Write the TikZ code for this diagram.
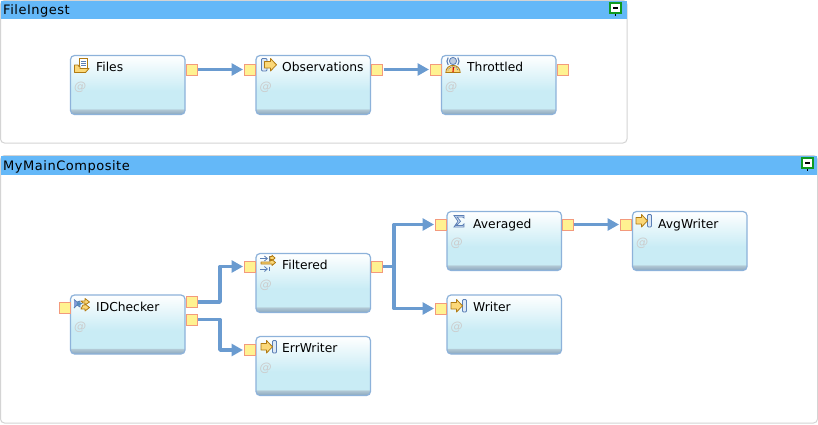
\documentclass[tikz,border=0pt]{standalone}
\usepackage{fontspec}
\setmainfont{DejaVu Sans}
\newfontfamily\titlefont[LetterSpace=4]{DejaVu Sans}
\usetikzlibrary{arrows.meta,calc}
\definecolor{hdr}{HTML}{64B8F8}
\definecolor{panelline}{HTML}{D4D4D4}
\definecolor{boxline}{HTML}{8DB2DA}
\definecolor{boxlight}{HTML}{C9ECF5}
\definecolor{bandtop}{HTML}{B4CBD6}
\definecolor{bandbot}{HTML}{8AA6BE}
\definecolor{portfill}{HTML}{FFF291}
\definecolor{portline}{HTML}{F39A7C}
\definecolor{wire}{HTML}{6A9BD0}
\definecolor{atgray}{HTML}{CCCCCC}
\definecolor{iconbrown}{HTML}{B07A12}
\definecolor{iconyellow}{HTML}{FBD878}
\definecolor{iconblue}{HTML}{5B7FB5}
\definecolor{iconpale}{HTML}{DCE8F6}
\definecolor{mingreen}{HTML}{109A20}
\pgfdeclareverticalshading{boxshade}{100bp}{color(0bp)=(bandbot); color(25bp)=(bandbot); color(29.5bp)=(bandtop); color(30bp)=(boxlight); color(45bp)=(boxlight); color(75bp)=(white); color(100bp)=(white)}
\tikzset{
  panel/.style={draw=panelline,line width=1pt,fill=white,rounded corners=4pt},
  headerbar/.style={fill=hdr},
  paneltitle/.style={anchor=base west,inner sep=0pt,font=\titlefont\fontsize{13}{15}\selectfont,color=black},
  opbox/.style={draw=boxline,line width=1.2pt,rounded corners=4pt,shading=boxshade,shading angle=0,minimum width=114.5pt,minimum height=59pt,inner sep=0pt,outer sep=0pt,anchor=north west},
  oplabel/.style={anchor=base west,inner sep=0pt,font=\fontsize{12.3}{14}\selectfont,color=black},
  atmark/.style={anchor=base west,inner sep=0pt,font=\fontsize{12}{13}\itshape\selectfont,color=atgray},
  port/.style={draw=portline,fill=portfill,line width=1pt,minimum size=11pt,inner sep=0pt,outer sep=0pt},
  wirearrow/.style={draw=wire,line width=3.5pt,line join=round,-{Triangle[length=11.5pt,width=12pt]},shorten >=1pt,shorten <=1pt},
  ibrown/.style={draw=iconbrown,fill=iconyellow,line width=.8pt,line join=round},
  iblue/.style={draw=iconblue,fill=iconpale,line width=.8pt},
  ithin/.style={draw=iconblue,line width=.8pt},
}
\newcommand{\minbtn}[2]{%
  \begin{scope}[shift={(#1,#2)}]
    \draw[black,line width=1pt] (5.5,10) -- (5.5,13);
    \draw[mingreen,line width=1.2pt,fill=white] (0,0) rectangle (11,10);
    \draw[black,line width=1.2pt] (3,5) -- (8,5);
  \end{scope}}
\newcommand{\icowriter}[2]{%
  \begin{scope}[shift={(#1,#2)}]
    \draw[iblue,rounded corners=1pt] (11.5,.5) rectangle (15.5,13);
    \draw[ibrown] (0,3.5) -- (5.5,3.5) -- (5.5,.5) -- (11.5,6.8) -- (5.5,13) -- (5.5,10) -- (0,10) -- cycle;
  \end{scope}}
\newcommand{\icosource}[2]{%
  \begin{scope}[shift={(#1,#2)}]
    \draw[iblue,rounded corners=1pt] (.5,.5) rectangle (6,13);
    \draw[ibrown] (3.5,3.5) -- (9.5,3.5) -- (9.5,.5) -- (15.5,6.8) -- (9.5,13) -- (9.5,10) -- (3.5,10) -- cycle;
  \end{scope}}
\newcommand{\icofiles}[2]{%
  \begin{scope}[shift={(#1,#2)}]
    \draw[iconbrown,fill=white,line width=.8pt] (5,.5) rectangle (13.5,11);
    \draw[iconblue,line width=.6pt] (7,3) -- (12,3) (7,5) -- (12,5) (7,7) -- (12,7);
    \draw[ibrown] (.5,14.5) -- (.5,7) -- (4,7) -- (5,8.5) -- (6,8.5) -- (6,10.5) -- (15,10.5) -- (11.5,14.5) -- cycle;
  \end{scope}}
\newcommand{\icothrottle}[2]{%
  \begin{scope}[shift={(#1,#2)}]
    \draw[iblue,fill=iconblue!40] (8,4) circle (3.6);
    \draw[iconblue,line width=1.1pt] (3.2,.5) .. controls (1.5,3) and (1.5,5.5) .. (3.2,8);
    \draw[iconblue,line width=1.1pt] (12.8,.5) .. controls (14.5,3) and (14.5,5.5) .. (12.8,8);
    \draw[iconbrown,fill=iconyellow,line width=.8pt] (.8,15.5) .. controls (.8,6) and (15.2,6) .. (15.2,15.5) -- cycle;
    \draw[iconblue,line width=.7pt,dash pattern=on 1pt off 1pt] (2.8,13.5) .. controls (3.5,8.5) and (12.5,8.5) .. (13.2,13.5);
    \draw[red!85!black,line width=1.1pt] (8,15) -- (8.4,10);
  \end{scope}}
\newcommand{\icochecker}[2]{%
  \begin{scope}[shift={(#1,#2)}]
    \draw[iblue,fill=cyan!40!blue!50] (0,1.5) -- (3,4) -- (6,3) -- (6,9) -- (3,7) -- (0,10);
    \fill[iconblue!90!cyan] (3,4) -- (9,5.5) -- (3,8) -- cycle;
    \draw[ibrown] (7,3) -- (11,3) -- (11,.5) -- (15.5,4) -- (11,7) -- (11,5) -- (9,5) -- cycle;
    \draw[ibrown] (9,7) -- (11,7) -- (11,6) -- (15.5,9.5) -- (11,13) -- (11,11) -- (7,11) -- cycle;
  \end{scope}}
\newcommand{\icofilter}[2]{%
  \begin{scope}[shift={(#1,#2)}]
    \draw[ithin,-{Straight Barb[length=3pt,width=5pt]}] (0,3.5) -- (8,3.5);
    \draw[ithin] (9,1) -- (9,6);
    \draw[ithin,-{Straight Barb[length=3pt,width=5pt]}] (0,14) -- (8,14);
    \draw[ithin] (9,11.5) -- (9,16);
    \draw[ibrown] (10,1.5) -- (12,1.5) -- (12,.2) -- (15,3) -- (12,5.8) -- (12,4.5) -- (10,4.5) -- cycle;
    \draw[ibrown] (10,5.5) -- (12,5.5) -- (12,4.5) -- (15.5,7.5) -- (12,10.5) -- (12,9) -- (1,9) -- (1,7) -- (10,7) -- cycle;
  \end{scope}}
\newcommand{\icosum}[2]{%
  \begin{scope}[shift={(#1,#2)}]
    \draw[iconblue,fill=iconpale,line width=.8pt,line join=miter] (0,0) -- (10,0) -- (10,2.5) -- (8.5,1.5) -- (3,1.5) -- (6.5,5.8) -- (2.5,10) -- (8.5,10) -- (10,8.5) -- (10,11.5) -- (0,11.5) -- (4,5.8) -- cycle;
  \end{scope}}
\newcommand{\opnode}[6]{% name, x, y, label, label x, label baseline
  \node[opbox] (#1) at (#2,#3) {};
  \node[oplabel] (#1-label) at (#5,#6) {#4};
  \node[atmark] (#1-at) at ($(#2,#3)+(3.5,35)$) {@};
}
\begin{document}
\begin{tikzpicture}[x=1pt,y=-1pt]
\useasboundingbox (0,0) rectangle (818,424);
\fill[white] (0,0) rectangle (818,424);
% panels
\draw[panel] (.5,.5) rectangle (627,143);
\fill[headerbar] (1,1) rectangle (626.5,19);
\node[paneltitle] (t1) at (3,14) {FileIngest};
\minbtn{610}{3}
\draw[panel] (.5,155.5) rectangle (817.5,423);
\fill[headerbar] (1,156) rectangle (817,175);
\node[paneltitle] (t2) at (3,170) {MyMainComposite};
\minbtn{802}{158}
% operators
\opnode{files}{70.5}{55.5}{Files}{96}{71.5}
\opnode{obs}{256}{55.5}{Observations}{282}{71.5}
\opnode{thr}{441.5}{55.5}{Throttled}{467}{71.5}
\opnode{idc}{70.5}{295}{IDChecker}{96}{311}
\opnode{fil}{256}{253.5}{Filtered}{282}{269}
\opnode{err}{256}{336.5}{ErrWriter}{282}{352}
\opnode{avg}{447}{211.5}{Averaged}{473}{228}
\opnode{wri}{447}{295}{Writer}{473}{311}
\opnode{awr}{632.5}{211.5}{AvgWriter}{658}{228}
% icons
\icofiles{74}{58}
\icosource{261}{58}
\icothrottle{445}{57}
\icochecker{74}{298}
\icofilter{260}{255}
\icowriter{261}{340}
\icosum{454}{215.5}
\icowriter{451}{299}
\icowriter{636}{214}
% ports
\node[port] (filesO) at (191.5,69.5) {};
\node[port] (obsI) at (249.5,69.5) {};
\node[port] (obsO) at (377,69.5) {};
\node[port] (thrI) at (435.5,69.5) {};
\node[port] (thrO) at (562.5,69.5) {};
\node[port] (idcI) at (64.5,308) {};
\node[port] (idcO1) at (191.5,302) {};
\node[port] (idcO2) at (191.5,319.5) {};
\node[port] (filI) at (249.5,266.5) {};
\node[port] (filO) at (376.5,266.5) {};
\node[port] (errI) at (249.5,350) {};
\node[port] (avgI) at (440.5,224.5) {};
\node[port] (avgO) at (567.5,224.5) {};
\node[port] (wriI) at (440.5,308.5) {};
\node[port] (awrI) at (625.5,224.5) {};
% connectors
\draw[wirearrow] (filesO.east) -- (obsI.west);
\draw[wirearrow] (obsO.east) -- (thrI.west);
\draw[wirearrow] (idcO1.east) -- ++(23,0) |- (filI.west);
\draw[wirearrow] (idcO2.east) -- ++(23,0) |- (errI.west);
\draw[wirearrow] (filO.east) -- ++(12,0) |- (avgI.west);
\draw[wirearrow] (filO.east) -- ++(12,0) |- (wriI.west);
\draw[wirearrow] (avgO.east) -- (awrI.west);
\end{tikzpicture}
\end{document}
